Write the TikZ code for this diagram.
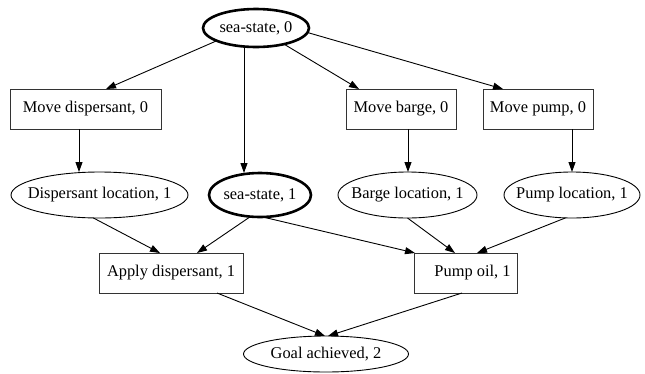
\documentclass[tikz,border=0pt]{standalone}
\usepackage{fontspec}
\setmainfont{Liberation Serif}
\usetikzlibrary{shapes.geometric,arrows.meta}
\newcommand\ctext[1]{\makebox[0pt]{#1}}
\begin{document}
\begin{tikzpicture}[x=1pt,y=-1pt,
  every node/.style={font=\fontsize{16.4}{19}\selectfont, inner sep=0pt, outer sep=0pt},
  ell/.style={draw, ellipse, line width=0.9pt},
  boldell/.style={draw, ellipse, line width=2.6pt},
  box/.style={draw=black!80, rectangle, line width=0.9pt},
  edge/.style={draw, line width=0.9pt, -{Triangle[length=10pt,width=7pt]}}]
\useasboundingbox (0,0) rectangle (645,373);
\node[boldell, minimum width=106, minimum height=38] (s0) at (256,28) {\ctext{sea-state, 0}};
\node[box, minimum width=151, minimum height=40] (md) at (85.5,109) {Move dispersant, 0};
\node[box, minimum width=110, minimum height=40] (mb) at (401,109) {Move barge, 0};
\node[box, minimum width=110, minimum height=40] (mp) at (538,109) {Move pump, 0};
\node[ell, minimum width=177, minimum height=46] (dl) at (99.5,195) {\ctext{Dispersant location, 1}};
\node[boldell, minimum width=102, minimum height=44] (s1) at (260,195) {\ctext{sea-state, 1}};
\node[ell, minimum width=139, minimum height=46] (bl) at (407.5,195) {\ctext{Barge location, 1}};
\node[ell, minimum width=136, minimum height=46] (pl) at (572,195) {\ctext{Pump location, 1}};
\node[box, minimum width=144, minimum height=40] (ad) at (171,273) {Apply dispersant, 1};
\node[box, minimum width=103, minimum height=40] (po) at (465.5,273) {\hspace*{14pt}Pump oil, 1};
\node[ell, minimum width=165, minimum height=36] (ga) at (326,354) {\ctext{Goal achieved, 2}};

\draw[edge] (s0.198) -- ([xshift=20.5]md.north);
\draw[edge] (s0.237) -- (s0.237 |- s1.north);
\draw[edge] (s0.-30) -- ([xshift=13]mb.north west);
\draw[edge] (s0.-5) -- ([xshift=20]mp.north west);
\draw[edge] ([xshift=-6.5]md.south) -- ([xshift=-6.5]md.south |- dl.north);
\draw[edge] ([xshift=7]mb.south) -- ([xshift=7]mb.south |- bl.north);
\draw[edge] ([xshift=34]mp.south) -- ([xshift=34]mp.south |- pl.north);
\draw[edge] (dl.255) -- ([xshift=-11]ad.north);
\draw[edge] (s1.246) -- ([xshift=26]ad.north);
\draw[edge] (s1.277) -- ([xshift=1]po.north west);
\draw[edge] (bl.south) -- ([xshift=-10.5]po.north);
\draw[edge] (pl.254) -- ([xshift=11.5]po.north);
\draw[edge] ([xshift=46]ad.south) -- ([xshift=-1]ga.north);
\draw[edge] ([xshift=-3.5]po.south) -- ([xshift=2]ga.north);
\end{tikzpicture}
\end{document}
